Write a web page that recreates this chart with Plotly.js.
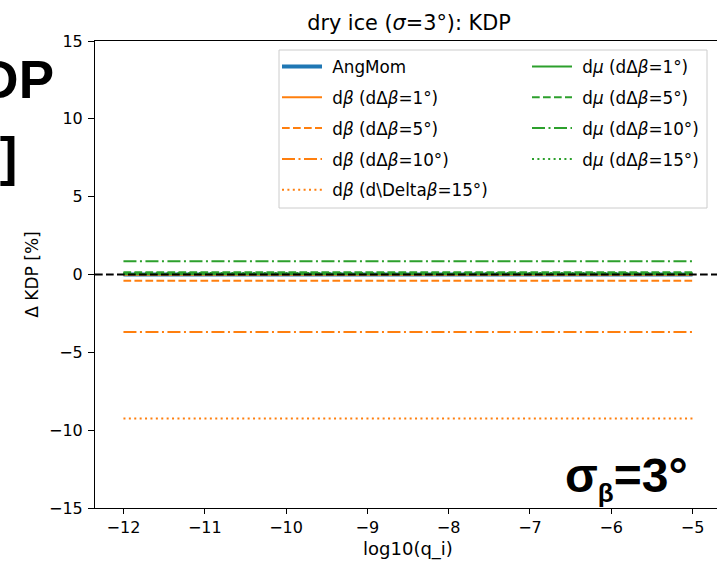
<!DOCTYPE html>
<html>
<head>
<meta charset="utf-8">
<script src="https://cdn.plot.ly/plotly-3.0.1.min.js"></script>
<style>
html,body{margin:0;padding:0;overflow:hidden;background:#fff;}
#chart{width:724px;height:562px;}
</style>
</head>
<body>
<div id="chart"></div>
<script>
// ---- data ----
const qi = [-12, -11, -10, -9, -8, -7, -6, -5];
const angMom = [0, 0, 0, 0, 0, 0, 0, 0];
const dBeta1 = [-0.02, -0.02, -0.02, -0.02, -0.02, -0.02, -0.02, -0.02];
const dBeta5 = [-0.4, -0.4, -0.4, -0.4, -0.4, -0.4, -0.4, -0.4];
const dBeta10 = [-3.7, -3.7, -3.7, -3.7, -3.7, -3.7, -3.7, -3.7];
const dBeta15 = [-9.25, -9.25, -9.25, -9.25, -9.25, -9.25, -9.25, -9.25];
const dMu1 = [0.03, 0.03, 0.03, 0.03, 0.03, 0.03, 0.03, 0.03];
const dMu5 = [0.15, 0.15, 0.15, 0.15, 0.15, 0.15, 0.15, 0.15];
const dMu10 = [0.85, 0.85, 0.85, 0.85, 0.85, 0.85, 0.85, 0.85];
const dMu15 = [0.1, 0.1, 0.1, 0.1, 0.1, 0.1, 0.1, 0.1];
const yTicks = [-15, -10, -5, 0, 5, 10, 15];
const xTicks = [-12, -11, -10, -9, -8, -7, -6, -5];

const BLUE = '#1f77b4', ORANGE = '#ff7f0e', GREEN = '#2ca02c';
const DASH = '7.7px,3.3px';
const DASHDOT = '13px,3.5px,2px,3.5px';
const DOT = '2px,3.4px';
const FONT = 'DejaVu Sans, sans-serif';
const BOLD = 'Liberation Sans, Arial, sans-serif';
const NB = '\u00a0';

function tr(y, name, color, dash, width, legend, grp) {
  return {x: qi, y: y, name: NB + name, type: 'scatter', mode: 'lines',
    line: {color: color, dash: dash, width: width},
    legend: legend, legendgroup: grp, hoverinfo: 'skip'};
}

const traces = [
  tr(angMom, 'AngMom', BLUE, 'solid', 4, 'legend', 'a'),
  tr(dBeta1, 'd<i>β</i> (dΔ<i>β</i>=1°)', ORANGE, 'solid', 2, 'legend', 'b1'),
  tr(dBeta5, 'd<i>β</i> (dΔ<i>β</i>=5°)', ORANGE, DASH, 2, 'legend', 'b5'),
  tr(dBeta10, 'd<i>β</i> (dΔ<i>β</i>=10°)', ORANGE, DASHDOT, 2, 'legend', 'b10'),
  tr(dBeta15, 'd<i>β</i> (d\\Delta<i>β</i>=15°)', ORANGE, DOT, 2, 'legend', 'b15'),
  tr(dMu1, 'd<i>μ</i> (dΔ<i>β</i>=1°)', GREEN, 'solid', 2, 'legend2', 'm1'),
  tr(dMu5, 'd<i>μ</i> (dΔ<i>β</i>=5°)', GREEN, DASH, 2, 'legend2', 'm5'),
  tr(dMu10, 'd<i>μ</i> (dΔ<i>β</i>=10°)', GREEN, DASHDOT, 2, 'legend2', 'm10'),
  tr(dMu15, 'd<i>μ</i> (dΔ<i>β</i>=15°)', GREEN, DOT, 2, 'legend2', 'm15')
];

// pixel helpers (plot area: x 95..721, y 41..508)
const L = 95, PW = 626, T = 41, PH = 467;
const px = v => (v - L) / PW;
const py = v => (T + PH - v) / PH;

const axisCommon = {
  showline: true, mirror: true, linecolor: 'black', linewidth: 1,
  ticks: 'outside', ticklen: 5, tickwidth: 1, tickcolor: 'black',
  showgrid: false, zeroline: false,
  tickfont: {family: FONT, size: 16, color: 'black'},
  automargin: false
};

const legendCommon = {
  orientation: 'v', xanchor: 'left', yanchor: 'top',
  bgcolor: 'rgba(0,0,0,0)', borderwidth: 0,
  font: {family: FONT, size: 16.8, color: 'black'},
  traceorder: 'grouped', tracegroupgap: 6, itemwidth: 40
};

const layout = {
  width: 724, height: 562,
  margin: {l: L, r: 724 - L - PW, t: T, b: 562 - T - PH, pad: 0},
  paper_bgcolor: 'white', plot_bgcolor: 'white',
  showlegend: true,
  title: {text: 'dry ice (<i>σ</i>=3°): KDP', font: {family: FONT, size: 20.8, color: 'black'},
    x: px(409), xref: 'paper', xanchor: 'center', y: 1 - 23 / 562, yref: 'container', yanchor: 'middle'},
  xaxis: Object.assign({}, axisCommon, {range: [-12.35, -4.65], tickvals: xTicks,
    title: {text: 'log10(q_i)', font: {family: FONT, size: 18, color: 'black'}, standoff: 6}}),
  yaxis: Object.assign({}, axisCommon, {range: [-15, 15], tickvals: yTicks, ticklen: 6, ticklabelstandoff: 2,
    title: {text: 'Δ KDP [%]', font: {family: FONT, size: 17, color: 'black'}, standoff: 6}}),
  legend: Object.assign({}, legendCommon, {x: px(277), y: py(49)}),
  legend2: Object.assign({}, legendCommon, {x: px(527), y: py(49)}),
  shapes: [
    {type: 'rect', xref: 'paper', yref: 'paper', x0: px(279), x1: px(707), y0: py(208), y1: py(50),
      line: {color: '#cccccc', width: 1}, fillcolor: 'rgba(255,255,255,0.8)', layer: 'above'},
    {type: 'line', xref: 'paper', yref: 'y', x0: 0, x1: 1, y0: 0, y1: 0,
      line: {color: 'black', width: 2, dash: DASH}, layer: 'above'}
  ],
  annotations: [
    {text: 'ΔKDP', xref: 'paper', yref: 'paper', x: px(56), y: py(80), xanchor: 'right', yanchor: 'middle',
      showarrow: false, font: {family: BOLD, size: 53, color: 'black', weight: 700}},
    {text: '[%]', xref: 'paper', yref: 'paper', x: px(19), y: py(156), xanchor: 'right', yanchor: 'middle',
      showarrow: false, font: {family: BOLD, size: 53, color: 'black', weight: 700}},
    {text: 'σ<sub><span style="font-size:26px">β</span></sub>=3°', xref: 'paper', yref: 'paper', x: px(690), y: py(478), xanchor: 'right', yanchor: 'middle',
      showarrow: false, font: {family: BOLD, size: 48, color: 'black', weight: 700}}
  ]
};

Plotly.newPlot('chart', traces, layout, {displayModeBar: false, staticPlot: true});
</script>
</body>
</html>
